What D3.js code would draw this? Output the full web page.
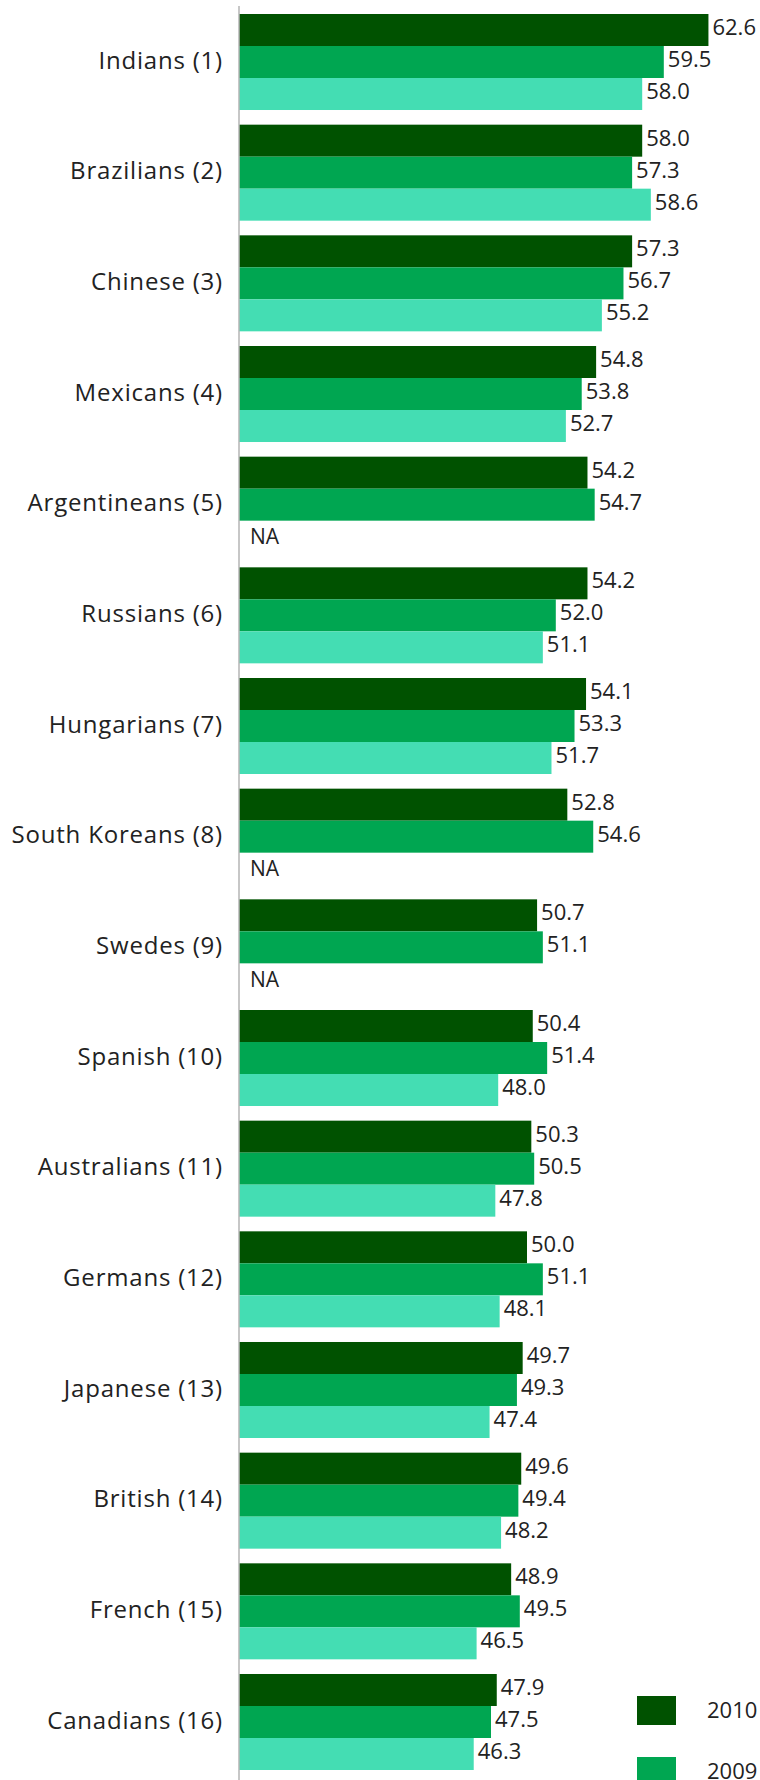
<!DOCTYPE html>
<html>
<head>
<meta charset="utf-8">
<script src="https://cdn.jsdelivr.net/npm/d3@7"></script>
<style>
  html, body { margin: 0; padding: 0; background: #fff; }
  svg text { font-family: "Open Sans", "Noto Sans", sans-serif; fill: #222; }
</style>
</head>
<body>
<div id="chart"></div>
<script>
const categories = ["Indians (1)", "Brazilians (2)", "Chinese (3)", "Mexicans (4)", "Argentineans (5)",
  "Russians (6)", "Hungarians (7)", "South Koreans (8)", "Swedes (9)", "Spanish (10)",
  "Australians (11)", "Germans (12)", "Japanese (13)", "British (14)", "French (15)", "Canadians (16)"];
const seriesNames = ["2010", "2009", "2008"];
const values2010 = [62.6, 58.0, 57.3, 54.8, 54.2, 54.2, 54.1, 52.8, 50.7, 50.4, 50.3, 50.0, 49.7, 49.6, 48.9, 47.9];
const values2009 = [59.5, 57.3, 56.7, 53.8, 54.7, 52.0, 53.3, 54.6, 51.1, 51.4, 50.5, 51.1, 49.3, 49.4, 49.5, 47.5];
const values2008 = [58.0, 58.6, 55.2, 52.7, null, 51.1, 51.7, null, null, 48.0, 47.8, 48.1, 47.4, 48.2, 46.5, 46.3];
const seriesValues = [values2010, values2009, values2008];
const colors = ["#005200", "#00a651", "#44ddb3"];

const W = 760, H = 1780;
const svg = d3.select("#chart").append("svg").attr("width", W).attr("height", H);

const x = d3.scaleLinear().domain([30, 65]).range([239, 743]);
const y = d3.scaleBand().domain(categories).range([14, 1770]).paddingInner(0.1325).paddingOuter(0);
const ySub = d3.scaleBand().domain(seriesNames).range([0, y.bandwidth()]);

const groups = svg.append("g").selectAll("g").data(categories).join("g")
  .attr("transform", d => `translate(0,${y(d)})`);

groups.each(function(cat, i) {
  const g = d3.select(this);
  seriesNames.forEach((s, si) => {
    const v = seriesValues[si][i];
    const yy = ySub(s);
    if (v == null) {
      g.append("text").attr("x", x(30) + 11).attr("y", yy + ySub.bandwidth() / 2)
        .attr("dy", "0.36em").attr("font-size", 21).text("NA");
      return;
    }
    g.append("rect").attr("x", x(30)).attr("y", yy)
      .attr("width", x(v) - x(30)).attr("height", ySub.bandwidth())
      .attr("fill", colors[si]);
    g.append("text").attr("x", x(v) + 4).attr("y", yy + ySub.bandwidth() / 2 - 3)
      .attr("dy", "0.36em").attr("font-size", 22).text(d3.format(".1f")(v));
  });
  g.append("text").attr("x", 223).attr("y", y.bandwidth() / 2 - 2)
    .attr("dy", "0.36em").attr("text-anchor", "end").attr("font-size", 24)
    .attr("letter-spacing", "0.8px").text(cat);
});

// axis line
svg.append("line").attr("x1", x(30)).attr("x2", x(30)).attr("y1", 6).attr("y2", H)
  .attr("stroke", "#b5b5b5").attr("stroke-width", 1.5);

// legend
const legendY = d3.scaleLinear().domain([0, 1]).range([1696, 1757]);
const legend = svg.append("g").selectAll("g")
  .data(seriesNames.filter((s, i) => legendY(i) < H))
  .join("g").attr("transform", (d, i) => `translate(637,${legendY(i)})`);
legend.append("rect").attr("width", 39).attr("height", 29)
  .attr("fill", (d) => colors[seriesNames.indexOf(d)]);
legend.append("text").attr("x", 70).attr("y", 14.5).attr("dy", "0.36em")
  .attr("font-size", 22).text(d => d);
</script>
</body>
</html>
